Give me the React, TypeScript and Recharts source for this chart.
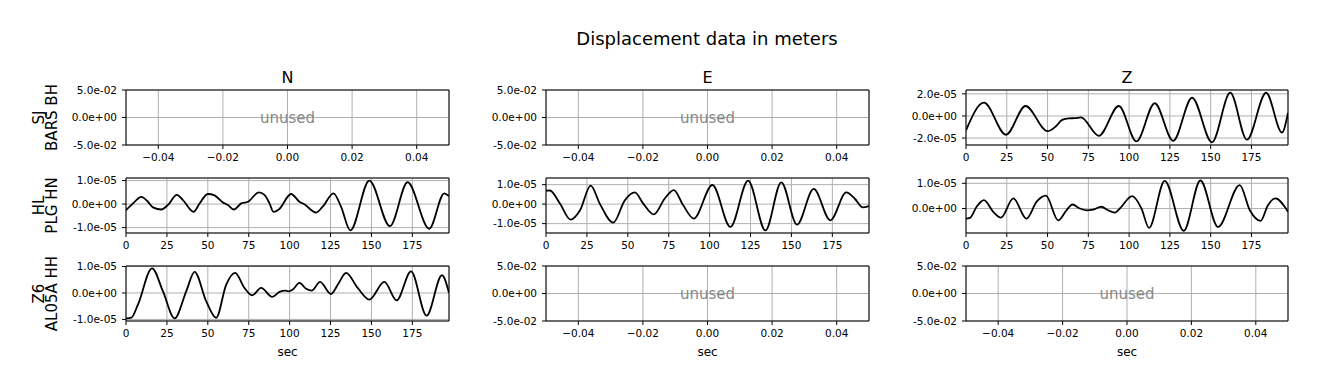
import React from "react";
import {
  LineChart,
  Line,
  XAxis,
  YAxis,
  CartesianGrid,
  ReferenceArea,
} from "recharts";

const FONT = "DejaVu Sans, sans-serif";

// Z component, SJ BARS BH (values in 1e-5 m)
const zTopTimes = [0, 11, 24.5, 36.5, 50, 55, 59, 63, 67, 70.5, 81.4, 93.7, 104.5, 115.7, 127, 138.6, 150.8, 162, 172.2, 184, 193.7, 197.4];
const zTopValues = [-1.3, 1.2, -1.7, 0.9, -1.38, -0.95, -0.35, -0.22, -0.2, -0.13, -1.8, 0.9, -2.3, 1.15, -2.25, 1.65, -2.39, 2.11, -2.15, 2.1, -1.5, 0.3];

// N component, HL PLG HN
const nMidTimes = [0, 4.3, 9.4, 13.4, 16.5, 21.6, 25.6, 31.1, 34.8, 41.3, 45, 50, 54.1, 59.2, 62.3, 65.9, 70.4, 74.5, 81.2, 84.6, 87.7, 90.1, 93.4, 100.9, 106, 109, 116.2, 120.2, 126.8, 131.4, 137.1, 148.7, 161.3, 172.1, 185.3, 194.5, 197.4];
const nMidValues = [-0.26, 0.03, 0.31, 0.1, -0.14, -0.23, -0.04, 0.39, 0.17, -0.33, 0.03, 0.43, 0.37, 0.07, -0.04, -0.23, 0.03, 0.1, 0.5, 0.39, 0.03, -0.33, -0.23, 0.43, 0.1, -0.01, -0.36, -0.11, 0.46, -0.11, -1.12, 1.0, -0.94, 0.93, -1.05, 0.46, 0.34];

// E component, HL PLG HN
const eMidTimes = [0, 2.4, 8.5, 15, 20.8, 27.3, 33, 41.1, 48.2, 54.3, 59.4, 65.9, 72.6, 78.1, 83.8, 90.3, 101.7, 112.7, 123.5, 134.1, 143.8, 153.4, 163.6, 173.8, 183.5, 188.6, 193.7, 197.4];
const eMidValues = [0.69, 0.7, 0.03, -0.79, -0.31, 0.95, 0.0, -0.95, 0.2, 0.6, 0.03, -0.53, 0.29, 0.72, -0.05, -0.74, 0.98, -1.17, 1.21, -1.35, 1.12, -1.05, 0.78, -0.83, 0.6, 0.29, -0.17, -0.1];

// Z component, HL PLG HN
const zMidTimes = [0, 2.4, 6.5, 11, 16.7, 21.4, 29, 37.1, 43.3, 49, 56.5, 61.6, 65.3, 69.8, 73.9, 78, 83, 87.1, 91.2, 94.3, 101.8, 107.6, 112.2, 121.8, 133.5, 143.7, 154.5, 167.8, 174, 180.6, 185.1, 189.6, 197.4];
const zMidValues = [-0.4, -0.37, 0.07, 0.33, -0.13, -0.36, 0.4, -0.4, 0.27, 0.51, -0.47, -0.07, 0.16, 0.0, -0.07, -0.04, 0.07, -0.07, -0.16, 0.0, 0.49, 0.0, -0.77, 1.1, -0.88, 1.11, -0.73, 0.93, -0.07, -0.49, 0.13, 0.4, -0.13];

// N component, Z6 AL05A HH
const nLowTimes = [0, 3.3, 7.3, 15.9, 22.6, 29.7, 36.8, 41.9, 49, 55.1, 61.2, 66.7, 72.4, 77.1, 82.6, 89.3, 93.8, 97.5, 99.5, 101.9, 106, 110.1, 113.5, 118.6, 125.3, 129.4, 134.5, 141.6, 148.7, 157.9, 165.4, 174.2, 183.7, 193.1, 197.4];
const nLowValues = [-0.96, -0.93, -0.44, 0.93, 0.06, -0.96, 0.06, 0.8, -0.31, -0.94, 0.31, 0.76, 0.19, -0.09, 0.19, -0.15, 0.04, 0.09, 0.06, 0.13, 0.38, 0.16, 0.09, 0.42, -0.04, 0.31, 0.76, 0.19, -0.25, 0.42, -0.28, 0.82, -0.86, 0.67, 0.0];

const secTicks = [0, 25, 50, 75, 100, 125, 150, 175];
const unusedXTicks = [-0.04, -0.02, 0, 0.02, 0.04];
const unusedYTicks = [-0.05, 0, 0.05];

const columnTitles = ["N", "E", "Z"];
const rowLabels = [
  ["SJ", "BARS BH"],
  ["HL", "PLG HN"],
  ["Z6", "AL05A HH"],
];

const zip = (times: number[], values: number[]) =>
  times.map((t, i) => ({ t, v: values[i] }));

const sci = (v: number) => {
  if (Math.abs(v) < 1e-15) return "0.0e+00";
  const [m, e] = v.toExponential(1).split("e");
  const n = parseInt(e, 10);
  return `${m}e${n < 0 ? "-" : "+"}${String(Math.abs(n)).padStart(2, "0")}`;
};

const fixed2 = (v: number) =>
  Math.abs(v) < 1e-12 ? "0.00" : v < 0 ? `\u2212${Math.abs(v).toFixed(2)}` : v.toFixed(2);

const COLS = [
  { x: 126, w: 323 },
  { x: 546, w: 323 },
  { x: 966, w: 322 },
];
const ROWS = [
  { y: 90, h: 55 },
  { y: 178, h: 55 },
  { y: 266, h: 55 },
];

const PAD_L = 90;
const PAD_R = 10;
const PAD_T = 10;
const PAD_B = 45;

const tickStyle = { fill: "#000", fontSize: 10.5, fontFamily: FONT };

interface PanelProps {
  row: number;
  col: number;
  data?: { t: number; v: number }[];
  yDomain?: [number, number];
  yTicks?: number[];
  showSec?: boolean;
}

const Panel = ({ row, col, data, yDomain, yTicks, showSec }: PanelProps) => {
  const { x, w } = COLS[col];
  const { y, h } = ROWS[row];
  const unused = !data;
  const xDomain: [number, number] = unused ? [-0.05, 0.05] : [0, 197.4];
  const yd: [number, number] = unused ? [-0.05, 0.05] : yDomain!;
  const chartData = unused ? [{ t: -0.05 }, { t: 0.05 }] : data;

  return (
    <div style={{ position: "absolute", left: x - PAD_L, top: y - PAD_T }}>
      <LineChart
        width={w + PAD_L + PAD_R}
        height={h + PAD_T + PAD_B}
        data={chartData}
        margin={{ top: PAD_T, right: PAD_R, bottom: 0, left: 0 }}
      >
        <CartesianGrid stroke="#b0b0b0" strokeWidth={1} />
        <XAxis
          dataKey="t"
          type="number"
          domain={xDomain}
          ticks={unused ? unusedXTicks : secTicks}
          tickFormatter={unused ? fixed2 : (v: number) => String(v)}
          allowDataOverflow
          height={PAD_B}
          axisLine={false}
          tickLine={{ stroke: "#000" }}
          tickSize={4}
          tickMargin={5}
          tick={tickStyle}
          interval={0}
          label={
            showSec
              ? {
                  value: "sec",
                  position: "insideBottom",
                  offset: 10,
                  fill: "#000",
                  fontSize: 12,
                  fontFamily: FONT,
                }
              : undefined
          }
        />
        <YAxis
          type="number"
          domain={yd}
          ticks={unused ? unusedYTicks : yTicks}
          tickFormatter={(v: number) => sci(unused ? v : v * 1e-5)}
          allowDataOverflow
          width={PAD_L}
          axisLine={false}
          tickLine={{ stroke: "#000" }}
          tickSize={4}
          tickMargin={5}
          tick={tickStyle}
          interval={0}
        />
        {!unused && (
          <Line
            dataKey="v"
            type="monotone"
            stroke="#000"
            strokeWidth={1.8}
            dot={false}
            isAnimationActive={false}
          />
        )}
        <ReferenceArea
          x1={xDomain[0]}
          x2={xDomain[1]}
          y1={yd[0]}
          y2={yd[1]}
          stroke="#000"
          strokeWidth={1}
          fill="none"
          fillOpacity={0}
          ifOverflow="visible"
        />
      </LineChart>
      {unused && (
        <div
          style={{
            position: "absolute",
            left: PAD_L,
            top: PAD_T,
            width: w,
            height: h,
            display: "flex",
            alignItems: "center",
            justifyContent: "center",
            color: "#888888",
            fontFamily: FONT,
            fontSize: 15,
            pointerEvents: "none",
          }}
        >
          unused
        </div>
      )}
    </div>
  );
};

export default function App() {
  return (
    <div
      style={{
        position: "absolute",
        left: 0,
        top: 0,
        width: 1318,
        height: 389,
        background: "#fff",
        overflow: "hidden",
      }}
    >
      <Panel row={0} col={0} />
      <Panel row={0} col={1} />
      <Panel row={0} col={2} data={zip(zTopTimes, zTopValues)} yDomain={[-2.63, 2.35]} yTicks={[-2, 0, 2]} />
      <Panel row={1} col={0} data={zip(nMidTimes, nMidValues)} yDomain={[-1.23, 1.11]} yTicks={[-1, 0, 1]} />
      <Panel row={1} col={1} data={zip(eMidTimes, eMidValues)} yDomain={[-1.48, 1.34]} yTicks={[-1, 0, 1]} />
      <Panel row={1} col={2} data={zip(zMidTimes, zMidValues)} yDomain={[-0.97, 1.21]} yTicks={[0, 1]} />
      <Panel row={2} col={0} data={zip(nLowTimes, nLowValues)} yDomain={[-1.06, 1.02]} yTicks={[-1, 0, 1]} showSec />
      <Panel row={2} col={1} showSec />
      <Panel row={2} col={2} showSec />

      <svg
        width={1318}
        height={389}
        style={{ position: "absolute", left: 0, top: 0, pointerEvents: "none" }}
        fontFamily={FONT}
      >
        <text x={707} y={44.5} textAnchor="middle" fontSize={18} fill="#000">
          Displacement data in meters
        </text>
        {columnTitles.map((t, i) => (
          <text
            key={t}
            x={COLS[i].x + COLS[i].w / 2}
            y={83.3}
            textAnchor="middle"
            fontSize={16}
            fill="#000"
          >
            {t}
          </text>
        ))}
        {rowLabels.map((lines, i) => {
          const cy = ROWS[i].y + ROWS[i].h / 2;
          return lines.map((line, j) => {
            const lx = j === 0 ? 44.3 : 57;
            return (
              <text
                key={`${i}-${j}`}
                x={lx}
                y={cy}
                transform={`rotate(-90 ${lx} ${cy})`}
                textAnchor="middle"
                fontSize={15}
                fill="#000"
              >
                {line}
              </text>
            );
          });
        })}
      </svg>
    </div>
  );
}
